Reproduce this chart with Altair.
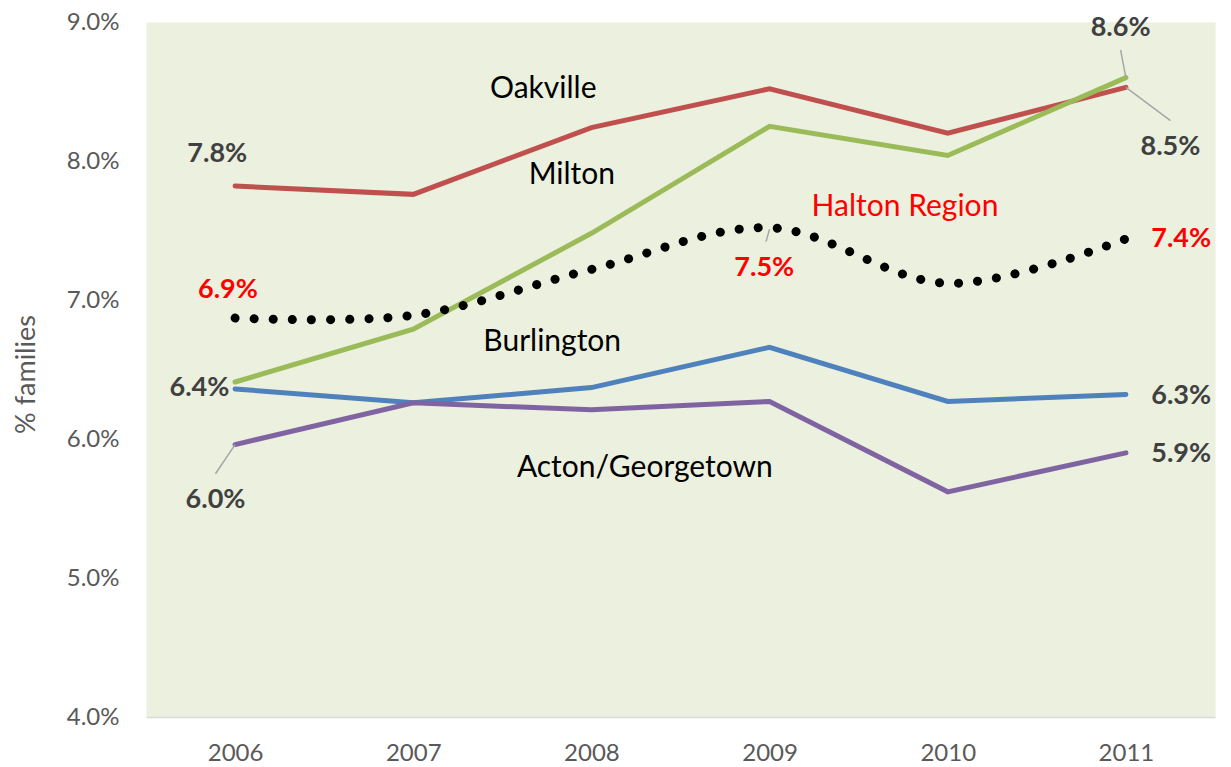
import altair as alt
import pandas as pd

years = [2006, 2007, 2008, 2009, 2010, 2011]
oakville = [7.82, 7.76, 8.24, 8.52, 8.20, 8.53]
milton = [6.41, 6.79, 7.48, 8.25, 8.04, 8.60]
burlington = [6.36, 6.26, 6.37, 6.66, 6.27, 6.32]
acton = [5.96, 6.26, 6.21, 6.27, 5.62, 5.90]
halton = [6.87, 6.89, 7.22, 7.52, 7.12, 7.44]

series_names = ["Burlington", "Acton/Georgetown", "Oakville", "Milton"]
series_colors = ["#4F81BD", "#8064A2", "#C0504D", "#9BBB59"]
series_values = [burlington, acton, oakville, milton]

# data-value labels (text, anchor year, anchor value, colour)
val_text = ["7.8%", "6.9%", "6.4%", "6.0%", "7.5%", "8.6%", "8.5%", "7.4%", "6.3%", "5.9%"]
val_x = [2005.90, 2005.96, 2005.80, 2005.89, 2008.97, 2010.97, 2011.25, 2011.31, 2011.31, 2011.31]
val_y = [8.05, 7.07, 6.37, 5.56, 7.23, 8.96, 8.10, 7.44, 6.31, 5.89]
val_color = ["#404040", "#FF0000", "#404040", "#404040", "#FF0000", "#404040", "#404040", "#FF0000", "#404040", "#404040"]

# series name labels
name_text = ["Oakville", "Milton", "Halton Region", "Burlington", "Acton/Georgetown"]
name_x = [2007.73, 2007.89, 2009.76, 2007.78, 2008.30]
name_y = [8.52, 7.90, 7.67, 6.70, 5.79]
name_color = ["#000000", "#000000", "#FF0000", "#000000", "#000000"]

# leader lines (from point to label)
lead_x = [2006.0, 2011.0, 2011.0, 2009.0]
lead_y = [5.96, 8.60, 8.53, 7.51]
lead_x2 = [2005.89, 2010.97, 2011.25, 2008.98]
lead_y2 = [5.75, 8.80, 8.29, 7.42]

rows = []
for n, vals in zip(series_names, series_values):
    for yr, v in zip(years, vals):
        rows.append({"year": yr, "value": v, "series": n})
df_lines = pd.DataFrame(rows)
df_halton = pd.DataFrame({"year": years, "value": halton})
df_vals = pd.DataFrame({"t": val_text, "x": val_x, "y": val_y, "c": val_color})
df_names = pd.DataFrame({"t": name_text, "x": name_x, "y": name_y, "c": name_color})
df_lead = pd.DataFrame({"x": lead_x, "y": lead_y, "x2": lead_x2, "y2": lead_y2})

FONT = "Lato"

xscale = alt.Scale(domain=[2005.5, 2011.5], nice=False, zero=False)
yscale = alt.Scale(domain=[4, 9], nice=False, zero=False)

xaxis = alt.Axis(
    values=years, format="d", title=None, ticks=False, grid=False,
    domainColor="#D9D9D9", domainWidth=1.5,
    labelFont=FONT, labelFontSize=24, labelColor="#595959", labelPadding=24,
)
yaxis = alt.Axis(
    values=[4, 5, 6, 7, 8, 9], labelExpr="format(datum.value, '.1f') + '%'",
    title="%  families", ticks=False, grid=False, domain=False,
    labelFont=FONT, labelFontSize=24, labelColor="#595959", labelPadding=27,
    titleFont=FONT, titleFontSize=27, titleFontWeight="normal", titleColor="#595959",
    titleX=-120, titleY=352, titleAngle=270, titleAlign="center", titleBaseline="middle",
)

base_x = alt.X("year:Q", scale=xscale, axis=xaxis)
base_y = alt.Y("value:Q", scale=yscale, axis=yaxis)

lines = alt.Chart(df_lines).mark_line(strokeWidth=5, strokeCap="round", strokeJoin="miter").encode(
    x=base_x, y=base_y,
    color=alt.Color("series:N", scale=alt.Scale(domain=series_names, range=series_colors), legend=None),
    order=alt.Order("year:Q"),
)

halton_line = alt.Chart(df_halton).mark_line(
    color="#000000", strokeWidth=9, strokeDash=[0.1, 19], strokeCap="round", interpolate="catmull-rom"
).encode(x="year:Q", y="value:Q")

leads = alt.Chart(df_lead).mark_rule(color="#A6A6A6", strokeWidth=1.5).encode(
    x="x:Q", y="y:Q", x2="x2:Q", y2="y2:Q"
)

vals = alt.Chart(df_vals).mark_text(
    font=FONT, fontSize=27, fontWeight="bold", align="center", baseline="middle"
).encode(x="x:Q", y="y:Q", text="t:N", color=alt.Color("c:N", scale=None))

names = alt.Chart(df_names).mark_text(
    font=FONT, fontSize=30, align="center", baseline="middle"
).encode(x="x:Q", y="y:Q", text="t:N", color=alt.Color("c:N", scale=None))

chart = alt.layer(lines, halton_line, leads, vals, names).properties(
    width=1069, height=695,
    autosize=alt.AutoSizeParams(type="none"),
    padding={"left": 138, "top": 14, "right": 8, "bottom": 50},
    background="#FFFFFF",
).configure_view(fill="#EBF0DF", stroke="transparent")

chart.save("out.html", embed_options={"renderer": "svg", "actions": False})
